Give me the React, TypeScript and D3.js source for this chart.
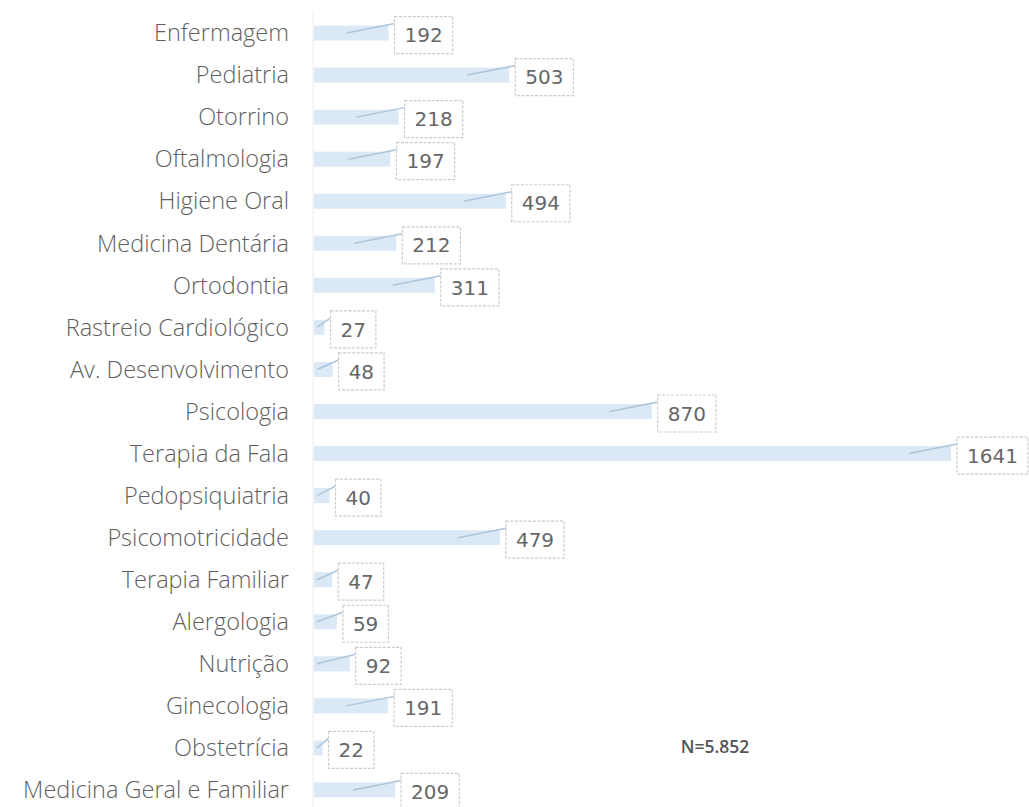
import React from "react";
import * as d3 from "d3";

const categories = [
  "Enfermagem",
  "Pediatria",
  "Otorrino",
  "Oftalmologia",
  "Higiene Oral",
  "Medicina Dentária",
  "Ortodontia",
  "Rastreio Cardiológico",
  "Av. Desenvolvimento",
  "Psicologia",
  "Terapia da Fala",
  "Pedopsiquiatria",
  "Psicomotricidade",
  "Terapia Familiar",
  "Alergologia",
  "Nutrição",
  "Ginecologia",
  "Obstetrícia",
  "Medicina Geral e Familiar",
];
const values = [192, 503, 218, 197, 494, 212, 311, 27, 48, 870, 1641, 40, 479, 47, 59, 92, 191, 22, 209];
const totalLabel = "N=5.852";

const W = 1029;
const H = 807;

export default function App() {
  const x = d3.scaleLinear().domain([0, 1641]).range([314, 951]);
  const y = d3.scaleBand<string>().domain(categories).range([12, 811]).padding(0);
  const barH = 15;
  const digitW = 0.636 * 20;

  return (
    <svg width={W} height={H} style={{ position: "absolute", left: 0, top: 0, background: "#fff" }}>
      <line x1={313} x2={313} y1={10} y2={811} stroke="#ededed" strokeWidth={1} />
      {categories.map((c, i) => {
        const v = values[i];
        const cy = (y(c) as number) + y.bandwidth() / 2;
        const xe = x(v);
        const label = String(v);
        const bw = label.length * digitW + 20;
        const bh = 37;
        const bx = xe + 6;
        const by = cy + 2 - bh / 2;
        const lx1 = Math.max(x(0) + 3, xe - 42);
        return (
          <g key={c}>
            <text
              x={289}
              y={cy}
              dy="0.35em"
              textAnchor="end"
              fontFamily="'Open Sans', sans-serif"
              fontWeight={300}
              fontSize={23.5}
              fill="#5f5f5f"
            >
              {c}
            </text>
            <rect x={x(0)} y={cy - barH / 2} width={xe - x(0)} height={barH} fill="#dbe8f5" />
            <line x1={lx1} y1={cy} x2={bx} y2={by + 7} stroke="#adc5da" strokeWidth={1.5} />
            <rect
              x={bx}
              y={by}
              width={bw}
              height={bh}
              fill="#fff"
              stroke="#cccccc"
              strokeWidth={1.2}
              strokeDasharray="3 1.5"
            />
            <text
              x={bx + bw / 2}
              y={by + bh / 2}
              dy="0.36em"
              textAnchor="middle"
              fontFamily="'DejaVu Sans', sans-serif"
              fontSize={20}
              fill="#666"
            >
              {label}
            </text>
          </g>
        );
      })}
      <text
        x={715}
        y={753}
        textAnchor="middle"
        fontFamily="'Open Sans', sans-serif"
        fontWeight={600}
        fontSize={17.5}
        fill="#555"
      >
        {totalLabel}
      </text>
    </svg>
  );
}
